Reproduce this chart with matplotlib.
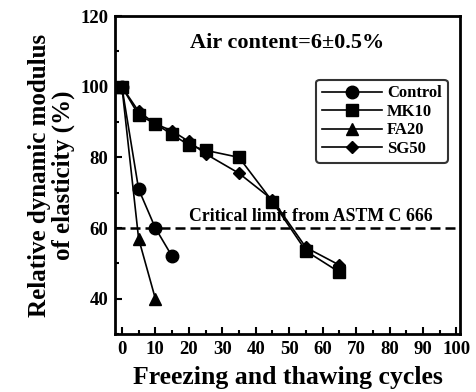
import matplotlib
matplotlib.use("Agg")
import matplotlib.pyplot as plt
from matplotlib.ticker import MultipleLocator

plt.rcParams['font.family'] = 'Liberation Serif'
plt.rcParams['font.weight'] = 'bold'

# data
ctrl_x = [0, 5, 10, 15]
ctrl_y = [100, 71, 60, 52]
mk_x = [0, 5, 10, 15, 20, 25, 35, 45, 55, 65]
mk_y = [100, 92, 89.5, 86.5, 83.5, 82, 80, 67.5, 53.5, 47.5]
fa_x = [0, 5, 10]
fa_y = [100, 57, 40]
sg_x = [0, 5, 10, 15, 20, 25, 35, 45, 55, 65]
sg_y = [100, 93, 89.5, 87.5, 84.5, 81, 75.5, 68, 54.5, 49.5]
critical = 60

fig = plt.figure(figsize=(4.76, 3.92), dpi=100)
ax = fig.add_axes([0.242, 0.148, 0.724, 0.811])

kw = dict(color='black', lw=1.2)
ax.plot(ctrl_x, ctrl_y, marker='o', ms=9, label='Control', **kw)
ax.plot(mk_x, mk_y, marker='s', ms=9, label='MK10', **kw)
ax.plot(fa_x, fa_y, marker='^', ms=8, label='FA20', **kw)
ax.plot(sg_x, sg_y, marker='D', ms=6.5, label='SG50', **kw)
ax.axhline(critical, color='black', ls='--', lw=1.8, dashes=(4, 2))

ax.text(0.5, 0.915, 'Air content=6\u00b10.5%', transform=ax.transAxes,
        ha='center', va='center', fontsize=16, fontweight='bold')
ax.text(56.5, 60.8, 'Critical limit from ASTM C 666', ha='center', va='bottom',
        fontsize=12.8, fontweight='bold')

ax.set_xlim(-2, 101)
ax.set_ylim(30, 120)
ax.xaxis.set_major_locator(MultipleLocator(10))
ax.xaxis.set_minor_locator(MultipleLocator(5))
ax.yaxis.set_major_locator(MultipleLocator(20))
ax.yaxis.set_minor_locator(MultipleLocator(10))
ax.set_yticks([40, 60, 80, 100, 120])
ax.tick_params(which='both', direction='in', width=1.5, labelsize=13.5, pad=5)
ax.tick_params(which='major', length=5)
ax.tick_params(which='minor', length=3)
for s in ax.spines.values():
    s.set_linewidth(2)

ax.set_xlabel('Freezing and thawing cycles', fontsize=18.5, fontweight='bold',
              labelpad=6)
ax.set_ylabel('Relative dynamic modulus\nof elasticity (%)', fontsize=18,
              fontweight='bold', linespacing=1.0, labelpad=4)

leg = ax.legend(loc='upper right', bbox_to_anchor=(0.965, 0.80), fontsize=12,
                handlelength=3.6, frameon=True, fancybox=True,
                edgecolor='black', borderpad=0.35, labelspacing=0.15,
                handletextpad=0.3, borderaxespad=0)
leg.get_frame().set_linewidth(1.5)

fig.savefig('out.png', dpi=100)
